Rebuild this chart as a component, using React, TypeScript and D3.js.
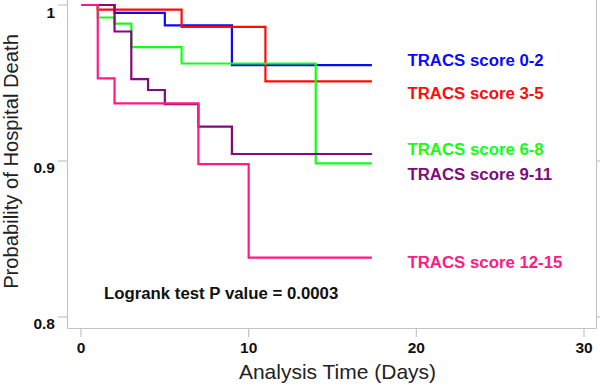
import React from "react";
import * as d3 from "d3";

const groups = ["TRACS score 0-2", "TRACS score 3-5", "TRACS score 6-8", "TRACS score 9-11", "TRACS score 12-15"];
const colors = ["#0a0aff", "#ff0a0a", "#14ff14", "#800a80", "#ff1a85"];
const times02 = [0, 2, 5, 9];
const surv02 = [1, 0.995, 0.987, 0.9615];
const times35 = [0, 1, 6, 11];
const surv35 = [1, 0.997, 0.986, 0.951];
const times68 = [0, 1, 2, 3, 6, 14];
const surv68 = [1, 0.992, 0.988, 0.973, 0.9625, 0.8985];
const times911 = [0, 2, 3, 4, 5, 7, 9];
const surv911 = [1, 0.983, 0.9525, 0.9455, 0.9365, 0.922, 0.9045];
const times1215 = [0, 1, 2, 7, 10];
const surv1215 = [1, 0.953, 0.937, 0.898, 0.838];
const endTime = 17.35;
const labelYValues = [0.965, 0.9435, 0.908, 0.8915, 0.8355];
const xTicks = [0, 10, 20, 30];
const yTicks = [0.8, 0.9, 1];
const yTickLabels = ["0.8", "0.9", "1"];

const allTimes = [times02, times35, times68, times911, times1215];
const allSurv = [surv02, surv35, surv68, surv911, surv1215];

export default function App() {
  const x = d3.scaleLinear().domain([0, 30]).range([81, 584]);
  const y = d3.scaleLinear().domain([0.8, 1]).range([317, 5]);
  const line = d3
    .line<[number, number]>()
    .x((d) => x(d[0]))
    .y((d) => y(d[1]))
    .curve(d3.curveStepAfter);
  const gray = "#c4c4c4";
  const font = "'Liberation Sans', Arial, sans-serif";
  return (
    <svg width={600} height={385} style={{ position: "absolute", left: 0, top: 0, background: "#fff" }}>
      <rect x={0} y={0} width={600} height={385} fill="#fff" />
      {/* frame */}
      <line x1={67.5} x2={67.5} y1={0} y2={328.5} stroke={gray} strokeWidth={1.2} />
      <line x1={596.5} x2={596.5} y1={0} y2={328.5} stroke={gray} strokeWidth={1.2} />
      <line x1={67.5} x2={596.5} y1={328.5} y2={328.5} stroke={gray} strokeWidth={1.2} />
      {yTicks.map((t, i) => (
        <g key={"yt" + i}>
          <line x1={58} x2={67.5} y1={y(t)} y2={y(t)} stroke={gray} strokeWidth={1.2} />
          {t < 1 && <line x1={596.5} x2={606} y1={y(t)} y2={y(t)} stroke={gray} strokeWidth={1.2} />}
          <text x={55} y={y(t) + (t === 1 ? 12.5 : 11.5)} textAnchor="end" fontFamily={font} fontWeight="bold" fontSize={15.5} fill="#111">
            {yTickLabels[i]}
          </text>
        </g>
      ))}
      {xTicks.map((t, i) => (
        <g key={"xt" + i}>
          <line x1={x(t)} x2={x(t)} y1={328.5} y2={337} stroke={gray} strokeWidth={1.2} />
          <text x={x(t)} y={353} textAnchor="middle" fontFamily={font} fontWeight="bold" fontSize={15.5} fill="#111">
            {t}
          </text>
        </g>
      ))}
      <text
        transform={`translate(17.5,161.5) rotate(-90)`}
        textAnchor="middle"
        fontFamily={font}
        fontSize={20.2}
        fill="#222"
      >
        Probability of Hospital Death
      </text>
      <text x={337.5} y={379} textAnchor="middle" fontFamily={font} fontSize={21} fill="#222">
        Analysis Time (Days)
      </text>
      {groups.map((g, i) => {
        const pts: [number, number][] = allTimes[i].map((t, j) => [t, allSurv[i][j]] as [number, number]);
        pts.push([endTime, allSurv[i][allSurv[i].length - 1]]);
        return <path key={g} d={line(pts) || ""} fill="none" stroke={colors[i]} strokeWidth={2.2} />;
      })}
      {groups.map((g, i) => (
        <text key={"l" + g} x={407.5} y={y(labelYValues[i]) + 6} fontFamily={font} fontWeight="bold" fontSize={16.8} fill={colors[i]}>
          {g}
        </text>
      ))}
      <text x={104} y={299} fontFamily={font} fontWeight="bold" fontSize={16.8} fill="#111">
        Logrank test P value = 0.0003
      </text>
    </svg>
  );
}
